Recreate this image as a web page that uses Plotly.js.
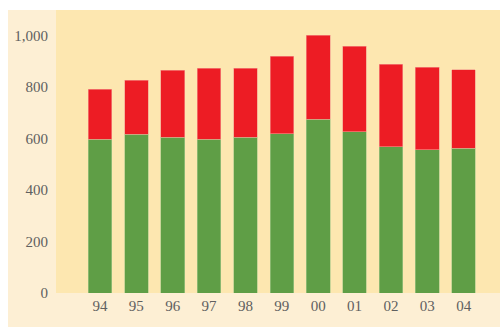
<!DOCTYPE html>
<html>
<head>
<meta charset="utf-8">
<script src="https://cdn.plot.ly/plotly-3.0.1.min.js"></script>
<style>
html,body{margin:0;padding:0;background:#ffffff;}
#chart{position:absolute;left:8px;top:10px;width:492px;height:317px;}
</style>
</head>
<body>
<div id="chart"></div>
<script>
const years = ["94","95","96","97","98","99","00","01","02","03","04"];
const greenValues = [596, 615, 605, 597, 604, 618, 674, 626, 567, 556, 561];
const redValues = [194, 210, 260, 275, 268, 300, 327, 332, 321, 320, 306];
const yTickVals = [0, 200, 400, 600, 800, 1000];
const yTickText = ["0", "200", "400", "600", "800", "1,000"];

const traces = [
  {type:"bar", x:years, y:greenValues, marker:{color:"#5f9e46", line:{color:"#a9c98a", width:0.6}}, hoverinfo:"x+y"},
  {type:"bar", x:years, y:redValues, marker:{color:"#ed1c24", line:{color:"#f39a8c", width:0.6}}, hoverinfo:"x+y"}
];
const layout = {
  width:492, height:317,
  barmode:"stack", bargap:0.35, showlegend:false,
  paper_bgcolor:"#fdefd4", plot_bgcolor:"#fde7b0",
  margin:{l:48, r:0, t:0, b:34},
  font:{family:"'Liberation Serif'", size:15, color:"#606060"},
  xaxis:{type:"category", range:[-1.21, 11.0], showgrid:false, zeroline:false, showline:false, ticks:"", ticklen:0, ticklabelstandoff:2, tickfont:{family:"'Liberation Serif'", size:15, color:"#606060"}},
  yaxis:{range:[0, 1098], tickvals:yTickVals, ticktext:yTickText, showgrid:false, zeroline:false, showline:false, ticks:"", ticklabelstandoff:7, tickfont:{family:"'Liberation Serif'", size:15, color:"#606060"}}
};
Plotly.newPlot("chart", traces, layout, {displayModeBar:false, staticPlot:true});
</script>
</body>
</html>
